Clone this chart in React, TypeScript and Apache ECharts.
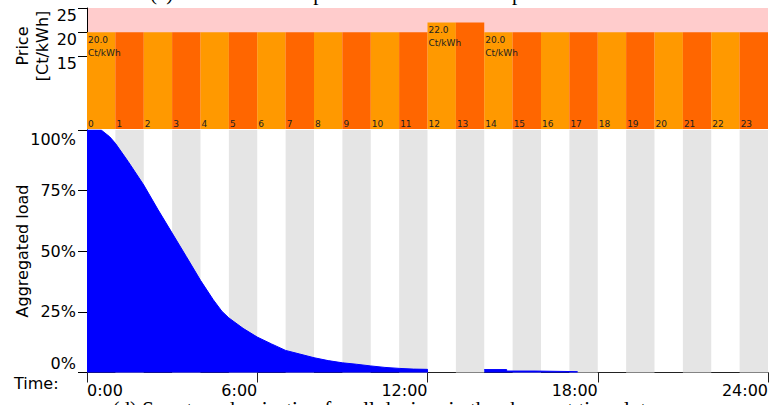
import React, { useEffect, useRef } from 'react';
import * as echarts from 'echarts';

// ---- data ----
const hourLabels = ['0', '1', '2', '3', '4', '5', '6', '7', '8', '9', '10', '11', '12', '13', '14', '15', '16', '17', '18', '19', '20', '21', '22', '23'];
const prices = [20, 20, 20, 20, 20, 20, 20, 20, 20, 20, 20, 20, 22, 22, 20, 20, 20, 20, 20, 20, 20, 20, 20, 20];
const priceLabelHours = [0, 12, 14];
const barColors = ['#FF9900', '#FF6600'];
const priceTicks = [15, 20, 25];

const loadHours = [0, 0.5, 0.8, 1.0, 1.45, 2.0, 2.5, 3.0, 3.5, 4.0, 4.45, 4.75, 5.0, 5.5, 6.0, 6.5, 7.0, 7.5, 8.0, 8.5, 9.0, 9.5, 10.0, 10.5, 11.0, 11.5, 12.0, 12.0, 13.0, 14.0, 14.79, 14.79, 15.79, 15.79, 17.29, 17.3];
const loadValues = [100, 100, 97.2, 94.5, 87, 77.3, 67.2, 57.5, 47.8, 38, 30, 25.3, 22.5, 18.2, 14.6, 11.8, 9.1, 7.6, 6.1, 4.9, 4.0, 3.4, 2.7, 2.1, 1.7, 1.4, 1.3, 0, null, 1.2, 1.2, 0.6, 0.6, 0.35, 0.35, null];
const stripeHours = [1, 3, 5, 7, 9, 11, 13, 15, 17, 19, 21, 23];

const titleText = '(c) Start at random position in earliest cheapest timeslot.';
const captionText = '(d) Smart randomization for all devices in the cheapest timeslots.';

const SANS = 'DejaVu Sans';

export default function App() {
  const ref = useRef<HTMLDivElement>(null);
  useEffect(() => {
    const chart = echarts.init(ref.current!, null, { renderer: 'svg' });
    const loadData = loadHours.map((h, i) => [h, loadValues[i] === null ? '-' : loadValues[i]]);
    const option: any = {
      animation: false,
      backgroundColor: '#ffffff',
      textStyle: { fontFamily: SANS },
      grid: [
        { left: 87, top: 8, width: 681, height: 121, show: true, backgroundColor: '#FFCCCC', borderWidth: 0 },
        { left: 87, top: 130, width: 681, height: 242.5 },
      ],
      xAxis: [
        {
          type: 'category', gridIndex: 0, data: hourLabels, boundaryGap: true,
          axisLine: { show: false }, axisTick: { show: false }, axisLabel: { show: false }, splitLine: { show: false },
        },
        {
          type: 'value', gridIndex: 1, min: 0, max: 24, interval: 6,
          axisLine: { show: true, lineStyle: { color: '#222', width: 1 } },
          axisTick: { show: true, length: 10, lineStyle: { color: '#222' } },
          axisLabel: {
            formatter: (v: number) => `${v}:00`, fontSize: 16, color: '#000', fontFamily: SANS,
            align: 'right', alignMinLabel: 'left', margin: 10,
          },
          splitLine: { show: false },
        },
      ],
      yAxis: [
        {
          type: 'value', gridIndex: 0, min: 0, max: 25, interval: 5,
          axisLine: { show: true, lineStyle: { color: '#000', width: 1 } },
          axisTick: { show: true, length: 9, customValues: priceTicks, lineStyle: { color: '#000' } },
          axisLabel: {
            customValues: priceTicks, fontSize: 16, color: '#000', fontFamily: SANS, margin: 10,
            verticalAlign: 'top', lineHeight: 14,
          },
          splitLine: { show: false },
        },
        {
          type: 'value', gridIndex: 1, min: 0, max: 100, interval: 25,
          axisLine: { show: true, lineStyle: { color: '#000', width: 1 } },
          axisTick: { show: true, length: 9, lineStyle: { color: '#000' } },
          axisLabel: {
            formatter: '{value}%', fontSize: 16, color: '#000', fontFamily: SANS, margin: 11,
            verticalAlignMinLabel: 'bottom', verticalAlignMaxLabel: 'top', lineHeight: 18,
          },
          splitLine: { show: false },
        },
      ],
      series: [
        {
          type: 'bar', xAxisIndex: 0, yAxisIndex: 0, barCategoryGap: '0%', barGap: '-100%',
          data: prices.map((p, i) => ({ value: p, itemStyle: { color: barColors[i % 2] } })),
          label: {
            show: true, position: 'insideBottomLeft', distance: 1, formatter: '{b}',
            fontSize: 9, color: '#222', fontFamily: SANS,
          },
          silent: true,
        },
        {
          type: 'bar', xAxisIndex: 0, yAxisIndex: 0, barCategoryGap: '0%', barGap: '-100%',
          data: prices,
          itemStyle: { color: 'rgba(0,0,0,0)' },
          label: {
            show: true, position: 'insideTopLeft', distance: 1, fontSize: 9, lineHeight: 13,
            color: '#222', fontFamily: SANS,
            formatter: (p: any) => priceLabelHours.includes(p.dataIndex) ? `${Number(p.value).toFixed(1)}\nCt/kWh` : '',
          },
          silent: true,
        },
        {
          type: 'line', xAxisIndex: 1, yAxisIndex: 1, data: [[0, 0]], symbol: 'none',
          lineStyle: { opacity: 0 }, silent: true,
          markArea: {
            silent: true,
            itemStyle: { color: '#E5E5E5' },
            data: stripeHours.map((h) => [{ xAxis: h }, { xAxis: h + 1 }]),
          },
        },
        {
          type: 'line', xAxisIndex: 1, yAxisIndex: 1, data: loadData, symbol: 'none',
          connectNulls: false,
          lineStyle: { color: '#0000FF', width: 1 },
          areaStyle: { color: '#0000FF', opacity: 1 },
          silent: true,
        },
      ],
      graphic: [
        {
          type: 'text', x: 32, y: 46, rotation: Math.PI / 2,
          style: { text: 'Price\n[Ct/kWh]', fontSize: 16, lineHeight: 20, fontFamily: SANS, fill: '#000', align: 'center', verticalAlign: 'middle' },
        },
        {
          type: 'text', x: 22, y: 251, rotation: Math.PI / 2,
          style: { text: 'Aggregated load', fontSize: 16, fontFamily: SANS, fill: '#000', align: 'center', verticalAlign: 'middle' },
        },
        {
          type: 'text', x: 14, y: 383,
          style: { text: 'Time:', fontSize: 16, fontFamily: SANS, fill: '#000', align: 'left', verticalAlign: 'middle' },
        },
        {
          type: 'text', x: 387, y: -7,
          style: { text: titleText, fontSize: 21, fontFamily: 'Liberation Serif', fill: '#000', align: 'center', verticalAlign: 'middle' },
        },
        {
          type: 'text', x: 386, y: 409,
          style: { text: captionText, fontSize: 21, fontFamily: 'Liberation Serif', fill: '#000', align: 'center', verticalAlign: 'middle' },
        },
      ],
    };
    chart.setOption(option);
    return () => chart.dispose();
  }, []);
  return (
    <div
      ref={ref}
      style={{ position: 'fixed', left: 0, top: 0, width: 773, height: 405, background: '#fff' }}
    />
  );
}
